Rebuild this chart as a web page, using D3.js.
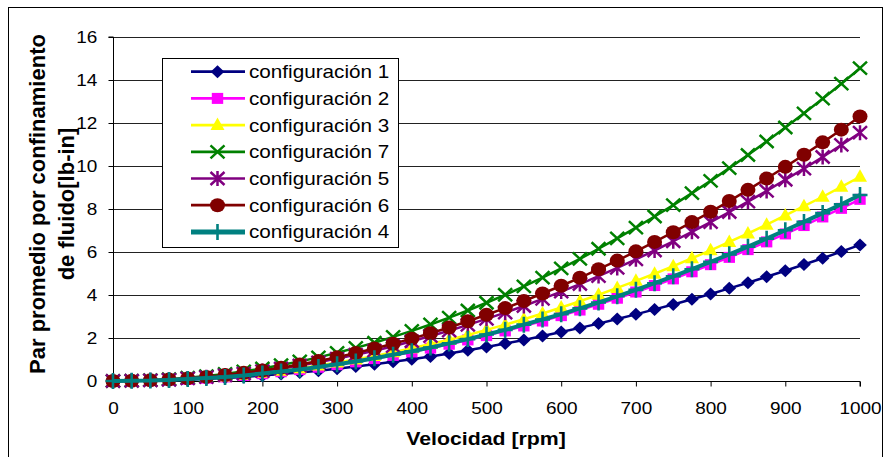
<!DOCTYPE html>
<html>
<head>
<meta charset="utf-8">
<script src="https://cdn.jsdelivr.net/npm/d3@7"></script>
<style>
  html, body { margin: 0; padding: 0; background: #fff; }
  svg { display: block; font-family: Arial, "Liberation Sans", sans-serif; }
</style>
</head>
<body>
<svg id="chart" width="885" height="457"></svg>
<script>
// Speed samples [rpm]
const velocidad = d3.range(0, 1001, 25);

// Mean confinement torque [lb-in] for each configuration
const config1 = [0,0.00,0.02,0.04,0.06,0.10,0.14,0.19,0.25,0.32,0.40,0.48,0.57,0.67,0.78,0.89,1.01,1.14,1.28,1.43,1.58,1.74,1.91,2.09,2.28,2.47,2.67,2.88,3.10,3.33,3.56,3.80,4.05,4.31,4.57,4.85,5.13,5.42,5.71,6.02,6.33];
const config2 = [0,0.01,0.02,0.05,0.08,0.13,0.19,0.26,0.34,0.43,0.53,0.64,0.76,0.89,1.04,1.19,1.35,1.53,1.71,1.91,2.11,2.33,2.56,2.79,3.04,3.30,3.57,3.85,4.14,4.44,4.75,5.08,5.41,5.75,6.11,6.47,6.84,7.23,7.63,8.03,8.45];
const config3 = [0,0.01,0.02,0.05,0.10,0.15,0.21,0.29,0.38,0.48,0.59,0.72,0.86,1.00,1.16,1.34,1.52,1.72,1.92,2.14,2.38,2.62,2.87,3.14,3.42,3.71,4.01,4.33,4.66,4.99,5.34,5.71,6.08,6.47,6.86,7.27,7.70,8.13,8.57,9.03,9.50];
const config7 = [0,0.01,0.04,0.08,0.15,0.23,0.33,0.45,0.58,0.74,0.91,1.10,1.31,1.54,1.78,2.05,2.33,2.63,2.95,3.28,3.64,4.01,4.40,4.81,5.24,5.68,6.15,6.63,7.13,7.65,8.18,8.74,9.31,9.90,10.51,11.14,11.79,12.45,13.13,13.83,14.55];
const config5 = [0,0.01,0.03,0.06,0.12,0.18,0.26,0.35,0.46,0.58,0.72,0.87,1.04,1.22,1.41,1.62,1.85,2.09,2.34,2.61,2.89,3.18,3.49,3.82,4.16,4.51,4.88,5.26,5.66,6.07,6.50,6.94,7.39,7.86,8.34,8.84,9.36,9.88,10.42,10.98,11.55];
const config6 = [0,0.01,0.03,0.07,0.12,0.19,0.28,0.38,0.49,0.62,0.77,0.93,1.11,1.30,1.51,1.73,1.97,2.22,2.49,2.78,3.08,3.39,3.72,4.07,4.43,4.80,5.20,5.60,6.03,6.47,6.92,7.39,7.87,8.37,8.89,9.42,9.96,10.52,11.10,11.69,12.30];
const config4 = [0,0.01,0.02,0.05,0.09,0.14,0.19,0.26,0.35,0.44,0.54,0.65,0.78,0.91,1.06,1.22,1.38,1.56,1.75,1.95,2.16,2.38,2.62,2.86,3.11,3.38,3.65,3.94,4.24,4.55,4.87,5.20,5.54,5.89,6.25,6.62,7.01,7.40,7.81,8.22,8.65];

const seriesNames = ["configuración 1","configuración 2","configuración 3","configuración 7","configuración 5","configuración 6","configuración 4"];
const seriesValues = [config1, config2, config3, config7, config5, config6, config4];

const xTicks = [0,100,200,300,400,500,600,700,800,900,1000];
const yTicks = [0,2,4,6,8,10,12,14,16];

// Visual style per series (line colour, width, marker)
const styles = [
  { color: "#000080", width: 2.5, marker: "diamond" },
  { color: "#FF00FF", width: 2.5, marker: "square" },
  { color: "#FFFF00", width: 2.5, marker: "triangle" },
  { color: "#008000", width: 2.5, marker: "x" },
  { color: "#800080", width: 2.5, marker: "star" },
  { color: "#800000", width: 2.5, marker: "circle" },
  { color: "#008080", width: 4,   marker: "cross" }
];

// Text in this chart is set slightly wide
const SX = 1.15;

const svg = d3.select("#chart");
const m = { left: 113, right: 860, top: 37, bottom: 381 };

// Outer frame
svg.append("rect")
  .attr("x", 8.5).attr("y", 7.5).attr("width", 874).attr("height", 460)
  .attr("fill", "none").attr("stroke", "#000").attr("stroke-width", 1);

const x = d3.scaleLinear().domain([0, 1000]).range([m.left, m.right]);
const y = d3.scaleLinear().domain([0, 16]).range([m.bottom, m.top]);

// Horizontal grid lines
svg.append("g")
  .selectAll("line").data(yTicks.filter(d => d > 0)).join("line")
  .attr("x1", m.left).attr("x2", m.right)
  .attr("y1", d => Math.round(y(d)) + 0.5).attr("y2", d => Math.round(y(d)) + 0.5)
  .attr("stroke", "#222").attr("stroke-width", 1);

// Axes
const yAxis = svg.append("g")
  .attr("transform", `translate(${m.left + 0.5},0)`)
  .call(d3.axisLeft(y).tickValues(yTicks).tickSize(5).tickPadding(9).tickFormat(d3.format("d")));
const xAxis = svg.append("g")
  .attr("transform", `translate(0,${m.bottom + 0.5})`)
  .call(d3.axisBottom(x).tickValues(xTicks).tickSize(5).tickPadding(16).tickFormat(d3.format("d")));

[yAxis, xAxis].forEach(g => {
  g.select(".domain").attr("stroke", "#000");
  g.selectAll(".tick line").attr("stroke", "#000");
  g.selectAll(".tick text")
    .attr("fill", "#000")
    .attr("transform", `scale(${SX},1)`)
    .style("font-family", "Arial, 'Liberation Sans', sans-serif")
    .style("font-size", "16.5px");
});
yAxis.select(".domain").attr("d", `M-5,${m.top}H0V${m.bottom}`);
xAxis.select(".domain").attr("d", `M${m.left},5V0H${m.right}V5`);

// Axis titles
svg.append("g").attr("transform", `translate(486,445) scale(${SX},1)`)
  .append("text")
  .attr("text-anchor", "middle")
  .style("font-weight", "bold").style("font-size", "18.5px")
  .text("Velocidad [rpm]");

const yTitle = svg.append("text")
  .attr("transform", "translate(0,204) rotate(-90)")
  .attr("text-anchor", "middle")
  .style("font-weight", "bold").style("font-size", "22px");
yTitle.append("tspan").attr("x", 0).attr("y", 45).text("Par promedio por confinamiento");
yTitle.append("tspan").attr("x", 0).attr("y", 74).text("de fluido[lb-in]");

// Marker drawing
function drawMarker(g, type, color, cx, cy) {
  const s = d3.select(g);
  switch (type) {
    case "diamond":
      s.append("path").attr("d", `M${cx},${cy-6.5}L${cx+6.8},${cy}L${cx},${cy+6.5}L${cx-6.8},${cy}Z`).attr("fill", color);
      break;
    case "square":
      s.append("rect").attr("x", cx-5.7).attr("y", cy-5.5).attr("width", 11.4).attr("height", 11).attr("fill", color);
      break;
    case "triangle":
      s.append("path").attr("d", `M${cx},${cy-7.5}L${cx+7},${cy+5}L${cx-7},${cy+5}Z`).attr("fill", color);
      break;
    case "x":
      s.append("path").attr("d", `M${cx-7},${cy-6.5}L${cx+7},${cy+6.5}M${cx+7},${cy-6.5}L${cx-7},${cy+6.5}`)
        .attr("stroke", color).attr("stroke-width", 2.5).attr("fill", "none");
      break;
    case "star":
      s.append("path").attr("d", `M${cx-7},${cy-6.5}L${cx+7},${cy+6.5}M${cx+7},${cy-6.5}L${cx-7},${cy+6.5}M${cx},${cy-7.5}V${cy+7.5}`)
        .attr("stroke", color).attr("stroke-width", 2.5).attr("fill", "none");
      break;
    case "circle":
      s.append("ellipse").attr("cx", cx).attr("cy", cy).attr("rx", 7.5).attr("ry", 7).attr("fill", color);
      break;
    case "cross":
      s.append("path").attr("d", `M${cx-7.5},${cy}H${cx+7.5}M${cx},${cy-8}V${cy+8}`)
        .attr("stroke", color).attr("stroke-width", 2.6).attr("fill", "none");
      break;
  }
}

// Series lines and markers, drawn in legend order
const line = d3.line().x((d, i) => x(velocidad[i])).y(d => y(d));
seriesValues.forEach((vals, k) => {
  const st = styles[k];
  const g = svg.append("g");
  g.append("path").datum(vals).attr("d", line)
    .attr("fill", "none").attr("stroke", st.color).attr("stroke-width", st.width)
    .attr("stroke-linejoin", "round");
  const mg = g.append("g");
  vals.forEach((v, i) => drawMarker(mg.node(), st.marker, st.color, x(velocidad[i]), y(v)));
});

// Legend
const lg = svg.append("g");
lg.append("rect").attr("x", 162.5).attr("y", 58.5).attr("width", 236).attr("height", 189)
  .attr("fill", "#fff").attr("stroke", "#000").attr("stroke-width", 1);
seriesNames.forEach((name, k) => {
  const st = styles[k];
  const cy = 71.7 + k * 26.7;
  lg.append("line").attr("x1", 191).attr("x2", 245).attr("y1", cy).attr("y2", cy)
    .attr("stroke", st.color).attr("stroke-width", st.width > 3 ? 5 : 2.7);
  const mg = lg.append("g");
  drawMarker(mg.node(), st.marker, st.color, 217.5, cy);
  lg.append("g").attr("transform", `translate(249,${cy + 6.5}) scale(${SX},1)`)
    .append("text")
    .style("font-size", "18px").text(name);
});
</script>
</body>
</html>
